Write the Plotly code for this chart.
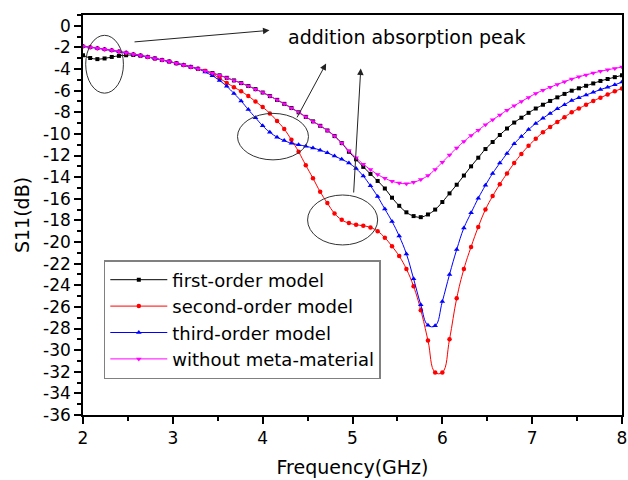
import plotly.graph_objects as go

# Frequency sweep (GHz)
freq = [2.00, 2.08, 2.16, 2.24, 2.32, 2.40, 2.48, 2.56, 2.64, 2.72,
        2.80, 2.88, 2.96, 3.04, 3.12, 3.20, 3.28, 3.36, 3.44, 3.52,
        3.60, 3.68, 3.76, 3.84, 3.92, 4.00, 4.08, 4.16, 4.24, 4.32,
        4.40, 4.48, 4.56, 4.64, 4.72, 4.80, 4.88, 4.96, 5.04, 5.12,
        5.20, 5.28, 5.36, 5.44, 5.52, 5.60, 5.68, 5.76, 5.84, 5.92,
        6.00, 6.08, 6.16, 6.24, 6.32, 6.40, 6.48, 6.56, 6.64, 6.72,
        6.80, 6.88, 6.96, 7.04, 7.12, 7.20, 7.28, 7.36, 7.44, 7.52,
        7.60, 7.68, 7.76, 7.84, 7.92, 8.00]

# S11 (dB) for each model
s11_first = [-2.72, -2.98, -3.08, -3.02, -2.88, -2.78, -2.72, -2.70, -2.77, -2.88,
             -3.02, -3.16, -3.31, -3.47, -3.63, -3.80, -3.98, -4.17, -4.37, -4.58,
             -4.81, -5.05, -5.30, -5.57, -5.86, -6.17, -6.50, -6.85, -7.22, -7.60,
             -8.00, -8.42, -8.84, -9.25, -9.68, -10.20, -10.85, -11.65, -12.35, -13.05,
             -13.70, -14.35, -15.05, -15.90, -16.65, -17.25, -17.60, -17.70, -17.45, -17.00,
             -16.30, -15.50, -14.70, -13.85, -13.00, -12.20, -11.40, -10.75, -10.10, -9.50,
             -8.95, -8.50, -8.05, -7.65, -7.30, -6.95, -6.62, -6.30, -6.00, -5.78,
             -5.55, -5.33, -5.10, -4.92, -4.75, -4.58]

s11_second = [-1.90, -1.98, -2.07, -2.17, -2.27, -2.38, -2.50, -2.62, -2.75, -2.88,
              -3.02, -3.16, -3.31, -3.47, -3.63, -3.80, -3.98, -4.17, -4.45, -4.85,
              -5.28, -5.68, -6.06, -6.50, -7.00, -7.52, -8.10, -8.80, -9.55, -10.55,
              -11.65, -12.90, -14.10, -15.35, -16.40, -17.35, -17.95, -18.25, -18.40, -18.50,
              -18.65, -19.00, -19.60, -20.40, -21.30, -22.50, -24.10, -26.30, -29.10, -32.06,
              -32.06, -29.00, -25.20, -22.50, -20.45, -18.60, -17.00, -15.75, -14.65, -13.65,
              -12.70, -11.85, -11.10, -10.45, -9.85, -9.35, -8.90, -8.45, -8.00, -7.65,
              -7.30, -6.95, -6.65, -6.35, -6.05, -5.80]

s11_third = [-1.90, -1.98, -2.07, -2.17, -2.27, -2.38, -2.50, -2.62, -2.75, -2.88,
             -3.02, -3.16, -3.31, -3.47, -3.63, -3.80, -3.98, -4.28, -4.62, -5.06,
             -5.60, -6.25, -6.95, -7.75, -8.50, -9.25, -9.85, -10.30, -10.62, -10.86,
             -11.00, -11.14, -11.30, -11.50, -11.75, -12.05, -12.35, -12.70, -13.20, -13.90,
             -14.80, -15.80, -16.95, -18.10, -19.45, -21.10, -23.40, -25.80, -27.70, -27.75,
             -25.50, -23.00, -20.70, -18.70, -17.30, -15.95, -14.75, -13.65, -12.70, -11.80,
             -10.90, -10.25, -9.60, -9.03, -8.55, -8.10, -7.68, -7.30, -6.92, -6.65,
             -6.40, -6.15, -5.90, -5.68, -5.46, -5.20]

s11_plain = [-1.90, -1.98, -2.07, -2.17, -2.27, -2.38, -2.50, -2.62, -2.75, -2.88,
             -3.02, -3.16, -3.31, -3.47, -3.63, -3.80, -3.98, -4.17, -4.37, -4.58,
             -4.81, -5.05, -5.30, -5.57, -5.86, -6.17, -6.50, -6.85, -7.22, -7.60,
             -8.00, -8.42, -8.84, -9.25, -9.68, -10.20, -10.85, -11.55, -12.20, -12.80,
             -13.30, -13.75, -14.10, -14.38, -14.55, -14.60, -14.48, -14.22, -13.85, -13.28,
             -12.62, -11.95, -11.30, -10.70, -10.15, -9.65, -9.15, -8.70, -8.25, -7.80,
             -7.40, -7.00, -6.62, -6.26, -5.96, -5.68, -5.42, -5.17, -4.92, -4.72,
             -4.54, -4.37, -4.21, -4.07, -3.94, -3.82]

series_names = ["first-order model", "second-order model",
                "third-order model", "without meta-material"]
series_colors = ["#000000", "#FF0000", "#0000FF", "#FF00FF"]
series_symbols = ["square", "circle", "triangle-up", "triangle-down"]
series_sizes = [4, 4.5, 5, 5]

y_ticks = list(range(0, -37, -2))
y_ticktext = [str(v) for v in y_ticks]
x_ticks = [2, 3, 4, 5, 6, 7, 8]

# Highlighted regions (x0, x1, y0, y1) in data units
ellipses = [(2.03, 2.45, -0.88, -6.23),
            (3.72, 4.51, -8.10, -12.40),
            (4.50, 5.28, -15.65, -20.27)]
# Arrows: (tail_x, tail_y, head_x, head_y)
arrows = [(2.557, -1.50, 4.076, -0.42),
          (4.374, -8.61, 4.706, -3.49),
          (5.012, -15.56, 5.092, -3.95)]
label_text = "addition absorption peak"
label_pos = (5.597, -1.03)

FONT = "DejaVu Sans, Arial, sans-serif"

fig = go.Figure()
for y, name, color, sym, size in zip(
        [s11_first, s11_second, s11_third, s11_plain],
        series_names, series_colors, series_symbols, series_sizes):
    fig.add_trace(go.Scatter(
        x=freq, y=y, name=name, mode="lines+markers",
        line=dict(color=color, width=1, shape="spline", smoothing=1.2),
        marker=dict(symbol=sym, size=size, color=color, line=dict(width=0)),
    ))

for x0, x1, y0, y1 in ellipses:
    fig.add_shape(type="circle", xref="x", yref="y",
                  x0=x0, x1=x1, y0=y0, y1=y1,
                  line=dict(color="#333333", width=1))

for tx, ty, hx, hy in arrows:
    fig.add_annotation(x=hx, y=hy, ax=tx, ay=ty, xref="x", yref="y",
                       axref="x", ayref="y", text="", showarrow=True,
                       arrowhead=2, arrowsize=1.3, arrowwidth=1,
                       arrowcolor="#222222")

fig.add_annotation(x=label_pos[0], y=label_pos[1], xref="x", yref="y",
                   text=label_text, showarrow=False,
                   font=dict(family=FONT, size=19, color="#000000"))

axis_common = dict(
    showline=True, linecolor="#000000", linewidth=1.5, mirror=True,
    ticks="outside", ticklen=7, tickwidth=1.5, tickcolor="#000000",
    showgrid=False, zeroline=False, ticklabeloverflow="allow",
    tickfont=dict(family=FONT, size=17, color="#000000"),
)

fig.update_layout(
    width=628, height=480, autosize=False,
    margin=dict(l=83, r=1, t=15, b=65),
    paper_bgcolor="white", plot_bgcolor="white",
    font=dict(family=FONT, color="#000000"),
    showlegend=True,
    legend=dict(x=0.0386, y=0.3875, xanchor="left", yanchor="top",
                bgcolor="white", bordercolor="#808080", borderwidth=1.5,
                font=dict(family=FONT, size=18, color="#000000"),
                itemwidth=57, tracegroupgap=0),
    xaxis=dict(range=[2, 8], tickmode="array", tickvals=x_ticks,
               minor=dict(dtick=0.5, ticks="outside", ticklen=4,
                          tickwidth=1.5, tickcolor="#000000"),
               title=dict(text="Frequency(GHz)", standoff=14,
                          font=dict(family=FONT, size=19)),
               **axis_common),
    yaxis=dict(range=[-36, 1], tickmode="array", tickvals=y_ticks,
               ticktext=y_ticktext,
               minor=dict(dtick=1, ticks="outside", ticklen=4,
                          tickwidth=1.5, tickcolor="#000000"),
               title=dict(text="S11(dB)", standoff=8,
                          font=dict(family=FONT, size=19)),
               **axis_common),
)

fig.write_html("out.html")
